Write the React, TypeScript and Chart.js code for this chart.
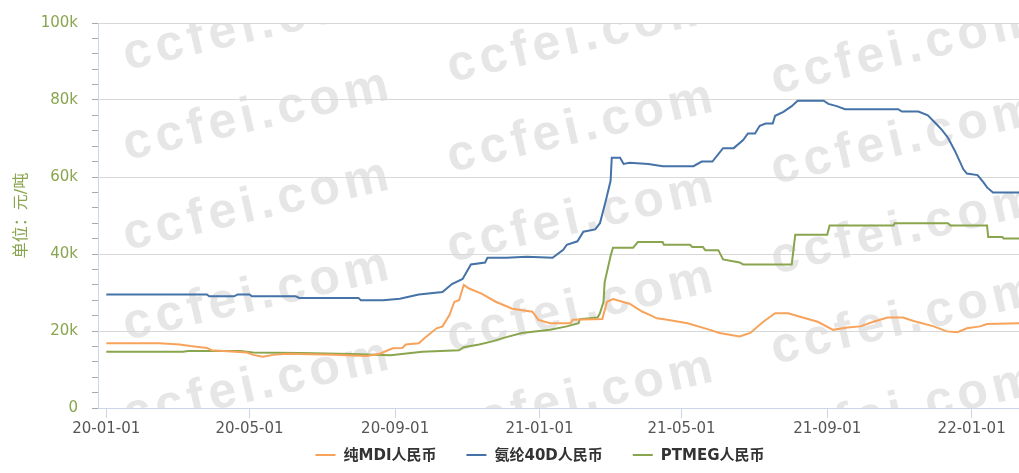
import React, { useEffect, useRef } from 'react';
import { Chart, registerables } from 'chart.js';

Chart.register(...registerables);

const seriesNames = ['纯MDI人民币', '氨纶40D人民币', 'PTMEG人民币'];
const seriesColors = ['#f7a35c', '#4572a7', '#89a54e'];

const mdiDates = [
  '2020-01-01', '2020-02-15', '2020-03-03', '2020-03-12', '2020-03-26', '2020-03-30', '2020-04-29', '2020-05-04',
  '2020-05-12', '2020-05-21', '2020-06-02', '2020-07-11', '2020-08-08', '2020-08-19', '2020-08-26', '2020-08-30',
  '2020-09-07', '2020-09-10', '2020-09-21', '2020-09-26', '2020-10-06', '2020-10-11', '2020-10-17', '2020-10-21',
  '2020-10-25', '2020-10-29', '2020-11-02', '2020-11-13', '2020-11-25', '2020-12-09', '2020-12-26', '2020-12-31',
  '2021-01-10', '2021-01-27', '2021-01-29', '2021-02-23', '2021-02-27', '2021-03-04', '2021-03-18', '2021-03-29',
  '2021-04-04', '2021-04-10', '2021-04-19', '2021-05-06', '2021-05-25', '2021-06-02', '2021-06-19', '2021-06-28',
  '2021-07-09', '2021-07-19', '2021-07-30', '2021-08-09', '2021-08-24', '2021-09-06', '2021-09-18', '2021-09-29',
  '2021-10-10', '2021-10-22', '2021-11-04', '2021-11-13', '2021-11-30', '2021-12-11', '2021-12-20', '2021-12-28',
  '2022-01-08', '2022-01-14', '2022-02-10',
];
const mdiValues = [
  16800, 16800, 16500, 16100, 15600, 15000, 14400, 13800,
  13300, 13800, 14100, 13800, 13500, 14100, 15000, 15500,
  15600, 16500, 16800, 18200, 20700, 21200, 24200, 27600,
  28000, 32000, 31100, 29700, 27600, 25800, 25000, 22900,
  22000, 22000, 22900, 23100, 27600, 28300, 27100, 25000,
  24200, 23300, 22900, 22000, 20300, 19500, 18600, 19500,
  22400, 24600, 24600, 23700, 22400, 20300, 20900, 21200,
  22400, 23500, 23500, 22600, 21200, 19900, 19700, 20700,
  21200, 21800, 22000,
];

const spandexDates = [
  '2020-01-01', '2020-03-26', '2020-03-28', '2020-04-18', '2020-04-21', '2020-05-01', '2020-05-03', '2020-06-09',
  '2020-06-12', '2020-08-01', '2020-08-03', '2020-08-22', '2020-09-05', '2020-09-21', '2020-10-11', '2020-10-19',
  '2020-10-28', '2020-11-04', '2020-11-16', '2020-11-18', '2020-12-04', '2020-12-21', '2021-01-12', '2021-01-21',
  '2021-01-24', '2021-02-02', '2021-02-07', '2021-02-17', '2021-02-21', '2021-02-26', '2021-03-02', '2021-03-03',
  '2021-03-10', '2021-03-13', '2021-03-18', '2021-04-03', '2021-04-15', '2021-05-11', '2021-05-18', '2021-05-27',
  '2021-06-05', '2021-06-14', '2021-06-22', '2021-06-26', '2021-07-02', '2021-07-06', '2021-07-11', '2021-07-17',
  '2021-07-19', '2021-07-26', '2021-08-02', '2021-08-07', '2021-08-29', '2021-09-02', '2021-09-09', '2021-09-16',
  '2021-10-31', '2021-11-03', '2021-11-17', '2021-11-25', '2021-12-03', '2021-12-07', '2021-12-12', '2021-12-18',
  '2021-12-25', '2021-12-28', '2022-01-06', '2022-01-11', '2022-01-14', '2022-01-19', '2022-02-10',
];
const spandexValues = [
  29500, 29500, 29000, 29000, 29500, 29500, 29000, 29000,
  28600, 28600, 28000, 28000, 28400, 29500, 30100, 32200,
  33500, 37300, 37800, 39000, 39000, 39300, 39000, 41100,
  42400, 43300, 45800, 46400, 48000, 53900, 59000, 65000,
  65000, 63400, 63700, 63400, 62800, 62800, 64000, 64000,
  67500, 67500, 69600, 71300, 71300, 73300, 73900, 73900,
  75900, 76900, 78400, 79800, 79800, 79000, 78400, 77600,
  77600, 77000, 77000, 76000, 73500, 72200, 70200, 66700,
  62000, 60900, 60500, 58600, 57300, 56000, 56000,
];

const ptmegDates = [
  '2020-01-01', '2020-03-06', '2020-03-10', '2020-04-23', '2020-05-04', '2020-06-13', '2020-07-25', '2020-08-28',
  '2020-09-24', '2020-10-25', '2020-10-29', '2020-11-11', '2020-11-22', '2020-12-04', '2020-12-17', '2021-01-10',
  '2021-01-24', '2021-02-03', '2021-02-04', '2021-02-19', '2021-02-21', '2021-02-24', '2021-02-25', '2021-03-02',
  '2021-03-04', '2021-03-21', '2021-03-25', '2021-04-15', '2021-04-16', '2021-05-08', '2021-05-10', '2021-05-19',
  '2021-05-21', '2021-06-01', '2021-06-05', '2021-06-19', '2021-06-22', '2021-08-02', '2021-08-05', '2021-09-01',
  '2021-09-03', '2021-10-27', '2021-10-28', '2021-12-12', '2021-12-14', '2022-01-14', '2022-01-15', '2022-01-27',
  '2022-01-28', '2022-02-10',
];
const ptmegValues = [
  14600, 14600, 14800, 14800, 14400, 14300, 14000, 13700,
  14600, 15000, 15800, 16500, 17300, 18400, 19500, 20300,
  21200, 22000, 23100, 23500, 24600, 27500, 32700, 39500,
  41600, 41600, 43100, 43100, 42400, 42400, 41800, 41800,
  41000, 41000, 38600, 37800, 37300, 37300, 45000, 45000,
  47400, 47400, 48000, 48000, 47400, 47400, 44400, 44400,
  44000, 44000,
];

const xTickDates = ['2020-01-01', '2020-05-01', '2020-09-01', '2021-01-01', '2021-05-01', '2021-09-01', '2022-01-01'];
const xRangeStart = '2019-12-25';
const xRangeEnd = '2022-02-10';
const yMin = 0;
const yMax = 100000;
const yMinorStep = 4000;
const yMajorStep = 20000;
const yAxisTitle = '单位：元/吨';
const watermarkText = 'ccfei.com';

const ORIGIN = Date.UTC(2020, 0, 1);
function toDay(s: string): number {
  const [y, m, d] = s.split('-').map(Number);
  return (Date.UTC(y, m - 1, d) - ORIGIN) / 86400000;
}
function fmtK(v: number): string {
  return v === 0 ? '0' : v / 1000 + 'k';
}

const FONT = "'DejaVu Sans', 'Noto Sans CJK SC', sans-serif";
const GREEN_TEXT = '#89a54e';

const watermarkPlugin = {
  id: 'watermark',
  beforeDraw(chart: any) {
    const { ctx, chartArea } = chart;
    ctx.save();
    ctx.beginPath();
    ctx.rect(chartArea.left, chartArea.top, chartArea.right - chartArea.left, chartArea.bottom - chartArea.top);
    ctx.clip();
    ctx.fillStyle = '#e6e6e6';
    ctx.font = "bold 50px 'Liberation Sans', Arial, sans-serif";
    (ctx as any).letterSpacing = '5px';
    ctx.textAlign = 'left';
    ctx.textBaseline = 'alphabetic';
    const angle = (-13 * Math.PI) / 180;
    for (let i = -1; i <= 3; i++) {
      for (let j = -2; j <= 6; j++) {
        const x = 127 + 324 * i;
        const y = 70 + 90 * j + 12 * i;
        ctx.save();
        ctx.translate(x, y);
        ctx.rotate(angle);
        ctx.fillText(watermarkText, 0, 0);
        ctx.restore();
      }
    }
    ctx.restore();
  },
};

const legendPlugin = {
  id: 'customLegend',
  afterDraw(chart: any) {
    const { ctx } = chart;
    const datasets = chart.data.datasets;
    ctx.save();
    ctx.font = `bold 15px ${FONT}`;
    const symbolW = 20;
    const gap = 8;
    const itemGap = 30;
    const widths = datasets.map((d: any) => symbolW + gap + ctx.measureText(d.label).width);
    const total = widths.reduce((a: number, b: number) => a + b, 0) + itemGap * (datasets.length - 1);
    let x = 540 - total / 2;
    const y = 455;
    datasets.forEach((d: any, i: number) => {
      ctx.strokeStyle = d.borderColor;
      ctx.lineWidth = 2;
      ctx.beginPath();
      ctx.moveTo(x, y);
      ctx.lineTo(x + symbolW, y);
      ctx.stroke();
      ctx.fillStyle = '#333333';
      ctx.textAlign = 'left';
      ctx.textBaseline = 'middle';
      ctx.fillText(d.label, x + symbolW + gap, y + 1);
      x += widths[i] + itemGap;
    });
    ctx.restore();
  },
};

export default function App() {
  const canvasRef = useRef<HTMLCanvasElement | null>(null);

  useEffect(() => {
    document.body.style.margin = '0';
    const canvas = canvasRef.current;
    if (!canvas) return;
    const build = (dates: string[], values: number[]) => dates.map((d, i) => ({ x: toDay(d), y: values[i] }));
    const seriesData = [build(mdiDates, mdiValues), build(spandexDates, spandexValues), build(ptmegDates, ptmegValues)];
    const xTicks = xTickDates.map(toDay);

    const chart = new Chart(canvas, {
      type: 'line',
      data: {
        datasets: seriesNames.map((name, i) => ({
          label: name,
          data: seriesData[i],
          borderColor: seriesColors[i],
          backgroundColor: seriesColors[i],
          borderWidth: 2,
          pointRadius: 0,
          pointHoverRadius: 0,
          tension: 0,
          fill: false,
        })),
      },
      options: {
        animation: false,
        responsive: false,
        devicePixelRatio: 1,
        events: [],
        layout: { padding: { top: 16, right: 0, bottom: 0, left: 0 } },
        plugins: {
          legend: { display: false },
          tooltip: { enabled: false },
        },
        scales: {
          x: {
            type: 'linear',
            min: toDay(xRangeStart),
            max: toDay(xRangeEnd),
            afterBuildTicks: (scale: any) => {
              scale.ticks = xTicks.map((v) => ({ value: v }));
            },
            afterFit: (scale: any) => {
              scale.height = 65;
            },
            ticks: {
              autoSkip: false,
              maxRotation: 0,
              padding: 2,
              color: '#555555',
              font: { family: FONT, size: 15 },
              callback: (v: any) => {
                const idx = xTicks.indexOf(Number(v));
                return idx >= 0 ? xTickDates[idx].slice(2) : '';
              },
            },
            grid: {
              drawOnChartArea: false,
              drawTicks: true,
              tickLength: 10,
              tickColor: '#ccd6eb',
              color: '#ccd6eb',
            },
            border: { color: '#ccd6eb', width: 1 },
          },
          y: {
            type: 'linear',
            min: yMin,
            max: yMax,
            afterFit: (scale: any) => {
              scale.width = 98;
            },
            ticks: {
              stepSize: yMinorStep,
              autoSkip: false,
              padding: 14,
              color: GREEN_TEXT,
              font: { family: FONT, size: 15 },
              callback: (v: any) => (Number(v) % yMajorStep === 0 ? fmtK(Number(v)) : ''),
            },
            grid: {
              tickLength: 6,
              color: (c: any) => (c.tick && c.tick.value % yMajorStep === 0 ? '#d8d8d8' : 'rgba(0,0,0,0)'),
              tickColor: '#a8a8a8',
            },
            border: { color: '#ccd6eb', width: 1 },
            title: {
              display: true,
              text: yAxisTitle,
              color: GREEN_TEXT,
              font: { family: FONT, size: 16 },
              padding: { top: 12, bottom: 0 },
            },
          },
        },
      },
      plugins: [watermarkPlugin, legendPlugin],
    } as any);

    return () => {
      chart.destroy();
    };
  }, []);

  return (
    <div style={{ width: 1019, height: 473 }}>
      <canvas ref={canvasRef} width={1019} height={473} style={{ display: 'block' }} />
    </div>
  );
}
